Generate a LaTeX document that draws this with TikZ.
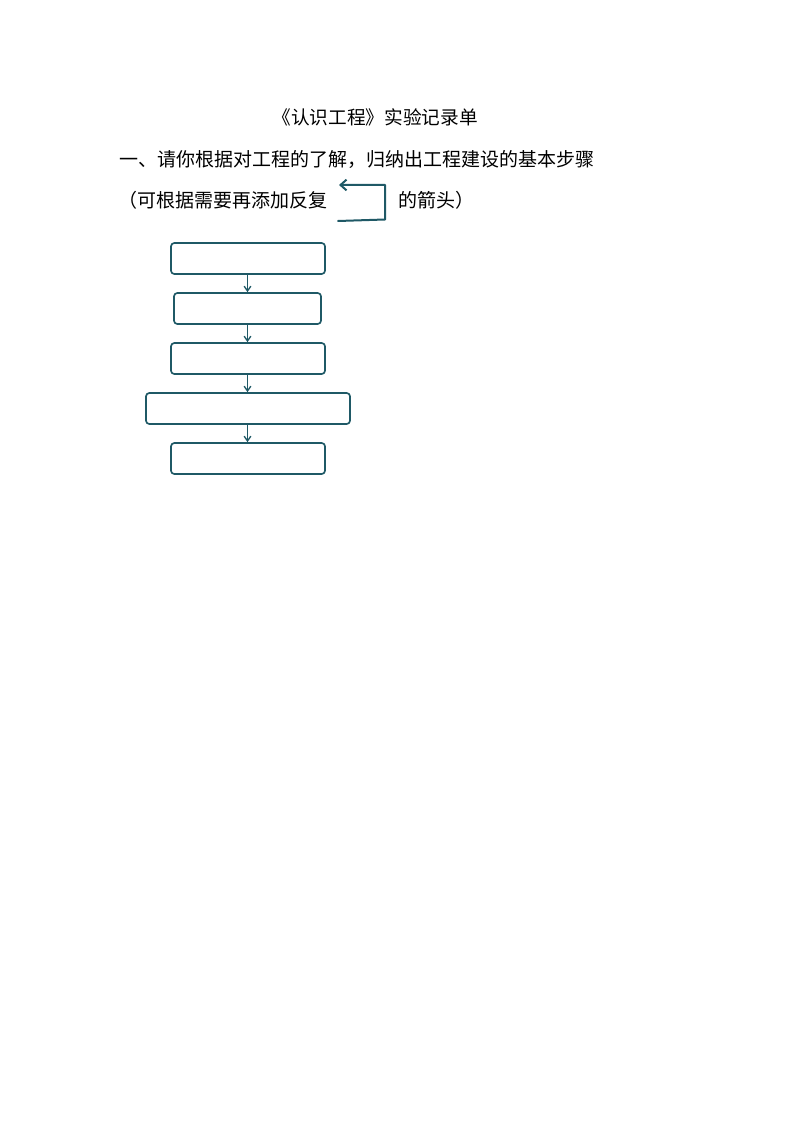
\documentclass[tikz,border=0pt]{standalone}
\usepackage{fontspec}
\setmainfont{Noto Sans CJK SC}
\usetikzlibrary{arrows.meta}
\definecolor{steptealc}{RGB}{31,89,102}

\begin{document}
\begin{tikzpicture}[line cap=round,line join=round,>={Straight Barb[length=3.6pt,width=5pt]},x=0.75pt,y=-0.75pt,
  stepbox/.style={draw=steptealc,line width=1.25pt,rounded corners=2.5pt,minimum height=23.25pt,inner sep=0pt},
  steparrow/.style={->,draw=steptealc,line width=1pt},
  linetext/.style={inner sep=0pt,anchor=west,font=\fontsize{14.25pt}{16pt}\selectfont}]
			\useasboundingbox (0,0) rectangle (794,1123);
			% heading and task text
			\node[inner sep=0pt,font=\fontsize{14pt}{16pt}\selectfont] (title) at (375,117) {《认识工程》实验记录单};
			\node[linetext] (task) at (119,159) {一、请你根据对工程的了解，归纳出工程建设的基本步骤};
			\node[linetext] (hintleft) at (118,200) {（可根据需要再添加反复};
			\node[linetext] (hintright) at (398,200) {的箭头）};
			% sample loop arrow
			\coordinate (loopstart) at (338,221);
			\coordinate (loopend) at (339,185);
			\draw[->,draw=steptealc,line width=1.5pt,>={Straight Barb[length=4.5pt,width=8pt]}] (loopstart) -- (385,219.5) -- (385,185) -- (loopend);
			% steps
			\node[stepbox,minimum width=115.5pt] (s1) at (248,258.5) {};
			\node[stepbox,minimum width=110.25pt] (s2) at (247.5,308.5) {};
			\node[stepbox,minimum width=115.5pt] (s3) at (248,358.5) {};
			\node[stepbox,minimum width=153pt] (s4) at (248,408.5) {};
			\node[stepbox,minimum width=115.5pt] (s5) at (248,458.5) {};
			\foreach \a/\b in {s1/s2,s2/s3,s3/s4,s4/s5}
				\draw[steparrow] (\a.south -| 247.5,0) -- (\b.north -| 247.5,0);
		\end{tikzpicture}
\end{document}
